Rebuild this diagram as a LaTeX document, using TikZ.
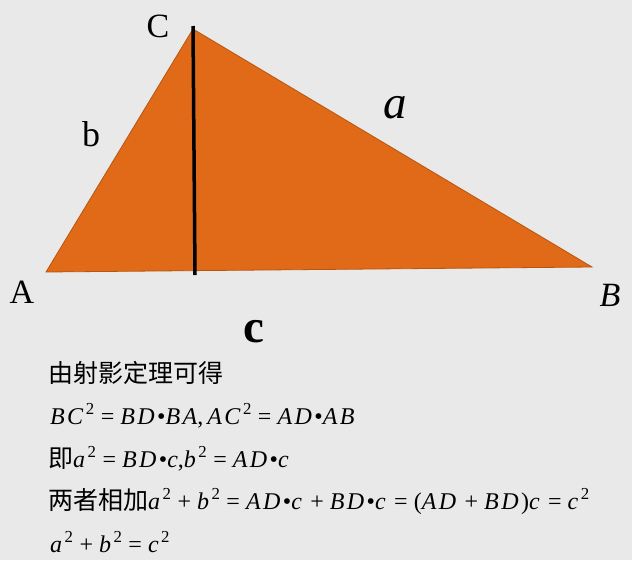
\documentclass[tikz,border=0pt]{standalone}
\usepackage{fontspec}
\setmainfont{Liberation Serif}
\newfontfamily\cjk{Noto Sans CJK SC}
\newfontfamily\eqfont[LetterSpace=10,WordSpace=0.72]{Liberation Serif}
\usepackage{tikz}
\definecolor{bggray}{HTML}{E9E9E9}
\definecolor{tri}{HTML}{E06A17}
\definecolor{triedge}{HTML}{B8560F}
\newcommand{\vsq}[1]{\textit{#1}\textsuperscript{2}}
\newcommand{\zh}[1]{{\fontsize{25}{28}\cjk #1}}

\begin{document}
\begin{tikzpicture}[x=1pt,y=-1pt,
  lbl/.style={inner sep=0pt,font=\fontsize{34}{34}\selectfont},
  eqline/.style={anchor=base west,inner sep=0pt,font=\fontsize{24}{28}\eqfont}]
% The background
\fill[bggray] (0,0) rectangle (632,560);
% The vertices
\coordinate (A) at (46,272);
\coordinate (B) at (592,267);
\coordinate (C) at (193,29);
\coordinate (Ctop) at (193,26);
\coordinate (D) at (195,275);
% The triangle and its altitude
\filldraw[fill=tri,draw=triedge,line width=0.8] (A) -- (B) -- (C) -- cycle;
\draw[line width=3.5] (Ctop) -- (D);
% The vertex and side labels
\node[lbl] (labC) at (158,26) {C};
\node[lbl] (labA) at (22,292) {A};
\node[lbl,font=\fontsize{34}{34}\itshape] (labB) at (610,295) {B};
\node[lbl,font=\fontsize{47}{47}\itshape] (laba) at (395,108) {a};
\node[lbl,font=\fontsize{36}{36}\selectfont] (labb) at (91,134) {b};
\node[lbl,font=\fontsize{47}{47}\bfseries] (labc) at (254,332) {c};
% The proof
\node[eqline] (line1) at (48,382) {\zh{由射影定理可得}};
\node[eqline] (line2) at (50,424) {\vsq{BC} = \textit{BD}•\textit{BA},\,\vsq{AC} = \textit{AD}•\textit{AB}};
\node[eqline] (line3) at (48,467) {\zh{即}\vsq{a} = \textit{BD}•\textit{c},\vsq{b} = \textit{AD}•\textit{c}};
\node[eqline] (line4) at (48,509) {\zh{两者相加}\vsq{a} + \vsq{b} = \textit{AD}•\textit{c} + \textit{BD}•\textit{c} = (\textit{AD} + \textit{BD})\textit{c} = \vsq{c}};
\node[eqline] (line5) at (50,552) {\vsq{a} + \vsq{b} = \vsq{c}};
\end{tikzpicture}
\end{document}
